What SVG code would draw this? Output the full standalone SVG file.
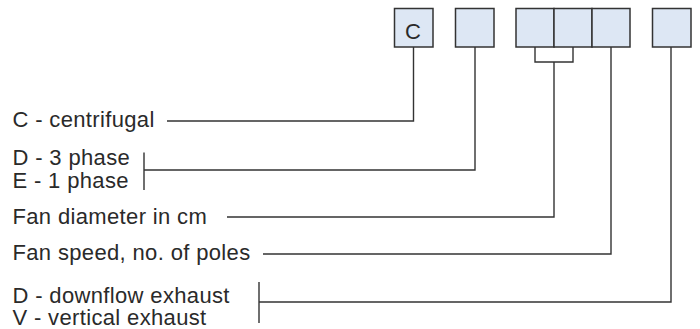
<svg xmlns="http://www.w3.org/2000/svg" width="700" height="329" viewBox="0 0 700 329">
<style>
.box{fill:#dde7f4;stroke:#333;stroke-width:1.5}
.ln{fill:none;stroke:#333;stroke-width:1.4}
.t{font-family:"Liberation Sans",Arial,sans-serif;font-size:22px;fill:#2a2a2a;letter-spacing:0.35px}
</style>
<rect width="700" height="329" fill="#fff"/>
<g id="box-c"><rect class="box" x="394.5" y="8.5" width="38.5" height="38.5"/><text class="t" x="413" y="38.5" text-anchor="middle" style="letter-spacing:0">C</text></g>
<g id="box-phase"><rect class="box" x="455.5" y="8.5" width="38.5" height="38.5"/></g>
<g id="box-diam1"><rect class="box" x="516" y="8.5" width="38" height="38.5"/></g>
<g id="box-diam2"><rect class="box" x="554" y="8.5" width="38" height="38.5"/></g>
<g id="box-speed"><rect class="box" x="592" y="8.5" width="38" height="38.5"/></g>
<g id="box-exhaust"><rect class="box" x="652.5" y="8.5" width="38.5" height="38.5"/></g>
<g id="label-c"><text class="t" x="12.5" y="127">C - centrifugal</text></g>
<g id="label-phase"><text class="t" x="12.5" y="165">D - 3 phase</text><text class="t" x="12.5" y="188">E - 1 phase</text></g>
<g id="label-diam"><text class="t" x="12.5" y="224">Fan diameter in cm</text></g>
<g id="label-speed"><text class="t" x="12.5" y="259.5">Fan speed, no. of poles</text></g>
<g id="label-exhaust"><text class="t" x="12.5" y="303">D - downflow exhaust</text><text class="t" x="12.5" y="325">V - vertical exhaust</text></g>
<g id="connectors">
<path class="ln" d="M413.5 47V121H167"/>
<path class="ln" d="M144 152.5V190M475 47V170H144"/>
<path class="ln" d="M535 47V62H573V47M554 62V217H227"/>
<path class="ln" d="M611 47V254H263"/>
<path class="ln" d="M259 282V323M671 47V302H259"/>
</g>
</svg>
